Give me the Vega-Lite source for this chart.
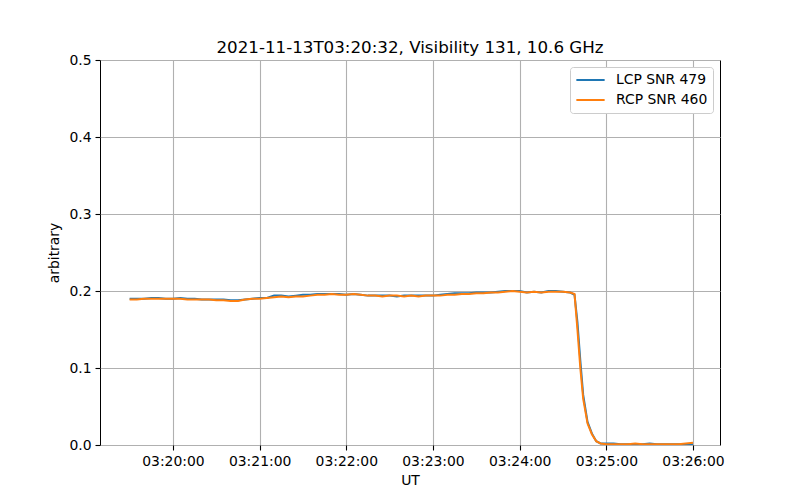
{
  "$schema": "https://vega.github.io/schema/vega-lite/v6.json",
  "width": 620,
  "height": 385,
  "autosize": "none",
  "padding": {"left": 100, "top": 60, "right": 80, "bottom": 55},
  "background": "white",
  "title": {"text": "2021-11-13T03:20:32, Visibility 131, 10.6 GHz", "font": "DejaVu Sans", "fontSize": 16.7, "fontWeight": "normal", "color": "black", "offset": -4, "anchor": "middle"},
  "config": {
    "view": {"stroke": "black", "strokeWidth": 1},
    "axis": {
      "labelFont": "DejaVu Sans", "labelFontSize": 13.9, "labelColor": "black",
      "titleFont": "DejaVu Sans", "titleFontSize": 13.9, "titleFontWeight": "normal", "titleColor": "black",
      "gridColor": "#b0b0b0", "gridWidth": 1.1, "gridOpacity": 1,
      "tickColor": "black", "tickSize": 5, "tickWidth": 1.1,
      "domain": false, "labelPadding": 4
    },
    "legend": {
      "labelFont": "DejaVu Sans", "labelFontSize": 13.9, "labelColor": "black"
    }
  },
  "data": {"values": [
    {"t": "2021-11-13T03:19:30", "LCP": 0.190, "RCP": 0.189},
    {"t": "2021-11-13T03:19:35", "LCP": 0.190, "RCP": 0.189},
    {"t": "2021-11-13T03:19:40", "LCP": 0.190, "RCP": 0.190},
    {"t": "2021-11-13T03:19:45", "LCP": 0.191, "RCP": 0.190},
    {"t": "2021-11-13T03:19:50", "LCP": 0.191, "RCP": 0.190},
    {"t": "2021-11-13T03:19:55", "LCP": 0.190, "RCP": 0.190},
    {"t": "2021-11-13T03:20:00", "LCP": 0.190, "RCP": 0.190},
    {"t": "2021-11-13T03:20:05", "LCP": 0.191, "RCP": 0.190},
    {"t": "2021-11-13T03:20:10", "LCP": 0.190, "RCP": 0.189},
    {"t": "2021-11-13T03:20:15", "LCP": 0.190, "RCP": 0.189},
    {"t": "2021-11-13T03:20:20", "LCP": 0.189, "RCP": 0.189},
    {"t": "2021-11-13T03:20:25", "LCP": 0.189, "RCP": 0.189},
    {"t": "2021-11-13T03:20:30", "LCP": 0.189, "RCP": 0.188},
    {"t": "2021-11-13T03:20:35", "LCP": 0.189, "RCP": 0.188},
    {"t": "2021-11-13T03:20:40", "LCP": 0.188, "RCP": 0.187},
    {"t": "2021-11-13T03:20:45", "LCP": 0.188, "RCP": 0.187},
    {"t": "2021-11-13T03:20:50", "LCP": 0.189, "RCP": 0.189},
    {"t": "2021-11-13T03:20:55", "LCP": 0.190, "RCP": 0.190},
    {"t": "2021-11-13T03:21:00", "LCP": 0.191, "RCP": 0.190},
    {"t": "2021-11-13T03:21:05", "LCP": 0.191, "RCP": 0.191},
    {"t": "2021-11-13T03:21:10", "LCP": 0.194, "RCP": 0.192},
    {"t": "2021-11-13T03:21:15", "LCP": 0.194, "RCP": 0.193},
    {"t": "2021-11-13T03:21:20", "LCP": 0.193, "RCP": 0.192},
    {"t": "2021-11-13T03:21:25", "LCP": 0.194, "RCP": 0.193},
    {"t": "2021-11-13T03:21:30", "LCP": 0.195, "RCP": 0.193},
    {"t": "2021-11-13T03:21:35", "LCP": 0.195, "RCP": 0.194},
    {"t": "2021-11-13T03:21:40", "LCP": 0.196, "RCP": 0.195},
    {"t": "2021-11-13T03:21:45", "LCP": 0.196, "RCP": 0.195},
    {"t": "2021-11-13T03:21:50", "LCP": 0.196, "RCP": 0.196},
    {"t": "2021-11-13T03:21:55", "LCP": 0.196, "RCP": 0.195},
    {"t": "2021-11-13T03:22:00", "LCP": 0.195, "RCP": 0.195},
    {"t": "2021-11-13T03:22:05", "LCP": 0.196, "RCP": 0.196},
    {"t": "2021-11-13T03:22:10", "LCP": 0.195, "RCP": 0.195},
    {"t": "2021-11-13T03:22:15", "LCP": 0.194, "RCP": 0.194},
    {"t": "2021-11-13T03:22:20", "LCP": 0.194, "RCP": 0.194},
    {"t": "2021-11-13T03:22:25", "LCP": 0.194, "RCP": 0.193},
    {"t": "2021-11-13T03:22:30", "LCP": 0.194, "RCP": 0.194},
    {"t": "2021-11-13T03:22:35", "LCP": 0.193, "RCP": 0.194},
    {"t": "2021-11-13T03:22:40", "LCP": 0.194, "RCP": 0.193},
    {"t": "2021-11-13T03:22:45", "LCP": 0.194, "RCP": 0.194},
    {"t": "2021-11-13T03:22:50", "LCP": 0.194, "RCP": 0.193},
    {"t": "2021-11-13T03:22:55", "LCP": 0.194, "RCP": 0.194},
    {"t": "2021-11-13T03:23:00", "LCP": 0.194, "RCP": 0.194},
    {"t": "2021-11-13T03:23:05", "LCP": 0.195, "RCP": 0.194},
    {"t": "2021-11-13T03:23:10", "LCP": 0.196, "RCP": 0.195},
    {"t": "2021-11-13T03:23:15", "LCP": 0.197, "RCP": 0.195},
    {"t": "2021-11-13T03:23:20", "LCP": 0.197, "RCP": 0.196},
    {"t": "2021-11-13T03:23:25", "LCP": 0.197, "RCP": 0.196},
    {"t": "2021-11-13T03:23:30", "LCP": 0.198, "RCP": 0.197},
    {"t": "2021-11-13T03:23:35", "LCP": 0.198, "RCP": 0.197},
    {"t": "2021-11-13T03:23:40", "LCP": 0.198, "RCP": 0.198},
    {"t": "2021-11-13T03:23:45", "LCP": 0.199, "RCP": 0.198},
    {"t": "2021-11-13T03:23:50", "LCP": 0.200, "RCP": 0.199},
    {"t": "2021-11-13T03:23:55", "LCP": 0.200, "RCP": 0.200},
    {"t": "2021-11-13T03:24:00", "LCP": 0.200, "RCP": 0.199},
    {"t": "2021-11-13T03:24:05", "LCP": 0.198, "RCP": 0.198},
    {"t": "2021-11-13T03:24:10", "LCP": 0.199, "RCP": 0.199},
    {"t": "2021-11-13T03:24:15", "LCP": 0.198, "RCP": 0.198},
    {"t": "2021-11-13T03:24:20", "LCP": 0.200, "RCP": 0.199},
    {"t": "2021-11-13T03:24:25", "LCP": 0.200, "RCP": 0.199},
    {"t": "2021-11-13T03:24:30", "LCP": 0.199, "RCP": 0.199},
    {"t": "2021-11-13T03:24:35", "LCP": 0.198, "RCP": 0.198},
    {"t": "2021-11-13T03:24:38", "LCP": 0.195, "RCP": 0.196},
    {"t": "2021-11-13T03:24:40", "LCP": 0.160, "RCP": 0.150},
    {"t": "2021-11-13T03:24:42", "LCP": 0.110, "RCP": 0.100},
    {"t": "2021-11-13T03:24:44", "LCP": 0.065, "RCP": 0.060},
    {"t": "2021-11-13T03:24:47", "LCP": 0.030, "RCP": 0.028},
    {"t": "2021-11-13T03:24:50", "LCP": 0.015, "RCP": 0.014},
    {"t": "2021-11-13T03:24:53", "LCP": 0.005, "RCP": 0.005},
    {"t": "2021-11-13T03:24:56", "LCP": 0.002, "RCP": 0.002},
    {"t": "2021-11-13T03:25:00", "LCP": 0.002, "RCP": 0.001},
    {"t": "2021-11-13T03:25:05", "LCP": 0.002, "RCP": 0.001},
    {"t": "2021-11-13T03:25:10", "LCP": 0.001, "RCP": 0.001},
    {"t": "2021-11-13T03:25:15", "LCP": 0.001, "RCP": 0.001},
    {"t": "2021-11-13T03:25:20", "LCP": 0.001, "RCP": 0.002},
    {"t": "2021-11-13T03:25:25", "LCP": 0.001, "RCP": 0.001},
    {"t": "2021-11-13T03:25:30", "LCP": 0.002, "RCP": 0.001},
    {"t": "2021-11-13T03:25:35", "LCP": 0.001, "RCP": 0.001},
    {"t": "2021-11-13T03:25:40", "LCP": 0.001, "RCP": 0.001},
    {"t": "2021-11-13T03:25:45", "LCP": 0.001, "RCP": 0.001},
    {"t": "2021-11-13T03:25:50", "LCP": 0.001, "RCP": 0.001},
    {"t": "2021-11-13T03:25:55", "LCP": 0.001, "RCP": 0.002},
    {"t": "2021-11-13T03:26:00", "LCP": 0.001, "RCP": 0.003}
  ]},
  "transform": [
    {"fold": ["LCP", "RCP"], "as": ["pol", "v"]},
    {"calculate": "datum.pol == 'LCP' ? 'LCP SNR 479' : 'RCP SNR 460'", "as": "series"}
  ],
  "mark": {"type": "line", "strokeWidth": 2, "clip": true},
  "encoding": {
    "x": {
      "field": "t", "type": "temporal", "title": "UT",
      "scale": {"domain": [
        {"year": 2021, "month": 11, "date": 13, "hours": 3, "minutes": 19, "seconds": 9, "milliseconds": 500},
        {"year": 2021, "month": 11, "date": 13, "hours": 3, "minutes": 26, "seconds": 18, "milliseconds": 700}
      ]},
      "axis": {
        "format": "%H:%M:%S",
        "values": [
          {"year": 2021, "month": 11, "date": 13, "hours": 3, "minutes": 20},
          {"year": 2021, "month": 11, "date": 13, "hours": 3, "minutes": 21},
          {"year": 2021, "month": 11, "date": 13, "hours": 3, "minutes": 22},
          {"year": 2021, "month": 11, "date": 13, "hours": 3, "minutes": 23},
          {"year": 2021, "month": 11, "date": 13, "hours": 3, "minutes": 24},
          {"year": 2021, "month": 11, "date": 13, "hours": 3, "minutes": 25},
          {"year": 2021, "month": 11, "date": 13, "hours": 3, "minutes": 26}
        ],
        "labelAngle": 0, "labelFlush": false, "titlePadding": 6
      }
    },
    "y": {
      "field": "v", "type": "quantitative", "title": "arbitrary",
      "scale": {"domain": [0, 0.5], "nice": false, "zero": false},
      "axis": {"values": [0, 0.1, 0.2, 0.3, 0.4, 0.5], "format": ".1f", "titlePadding": 7}
    },
    "color": {
      "field": "series", "type": "nominal",
      "scale": {"domain": ["LCP SNR 479", "RCP SNR 460"], "range": ["#1f77b4", "#ff7f0e"]},
      "legend": {
        "title": null, "orient": "top-right", "offset": 7,
        "fillColor": "white", "strokeColor": "#cccccc", "cornerRadius": 3,
        "padding": 5, "symbolType": "stroke", "symbolSize": 800, "symbolStrokeWidth": 2,
        "rowPadding": 4, "clipHeight": 16, "labelOffset": 10
      }
    },
    "order": {"field": "series"}
  }
}
